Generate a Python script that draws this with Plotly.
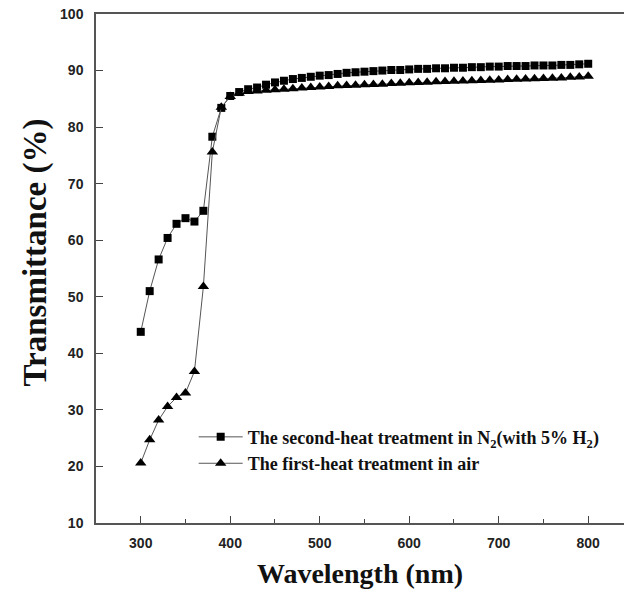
import plotly.graph_objects as go

wavelength = list(range(300, 801, 10))

# The second-heat treatment in N2 (with 5% H2) -- squares
t_n2 = [43.8, 51.0, 56.6, 60.4, 62.9, 63.9, 63.3, 65.2, 78.3, 83.4,
        85.5, 86.2, 86.7, 87.0, 87.5, 87.9, 88.2, 88.5, 88.7, 88.9,
        89.1, 89.2, 89.4, 89.6, 89.7, 89.8, 89.9, 90.0, 90.1, 90.1,
        90.2, 90.3, 90.3, 90.4, 90.4, 90.5, 90.5, 90.6, 90.6, 90.7,
        90.7, 90.8, 90.8, 90.8, 90.9, 90.9, 90.9, 91.0, 91.0, 91.1,
        91.2]

# The first-heat treatment in air -- triangles
t_air = [20.6, 24.7, 28.2, 30.6, 32.2, 33.0, 36.8, 51.8, 75.6, 83.5,
         85.4, 86.0, 86.3, 86.4, 86.5, 86.6, 86.7, 86.8, 86.9, 87.0,
         87.1, 87.2, 87.3, 87.35, 87.4, 87.5, 87.55, 87.6, 87.7, 87.75,
         87.85, 87.9, 87.95, 88.0, 88.05, 88.1, 88.15, 88.2, 88.25, 88.3,
         88.35, 88.4, 88.45, 88.5, 88.55, 88.6, 88.65, 88.7, 88.8, 88.85,
         89.0]

series_names = [
    "The second-heat treatment in N<sub>2</sub>(with 5% H<sub>2</sub>)",
    "The first-heat treatment in air",
]

x_ticks = [300, 400, 500, 600, 700, 800]
y_ticks = [10, 20, 30, 40, 50, 60, 70, 80, 90, 100]

fig = go.Figure()
fig.add_trace(go.Scatter(
    x=wavelength, y=t_n2, name=series_names[0], mode="lines+markers",
    line=dict(color="#555555", width=1),
    marker=dict(symbol="square", size=8, color="black"),
))
fig.add_trace(go.Scatter(
    x=wavelength, y=t_air, name=series_names[1], mode="lines+markers",
    line=dict(color="#555555", width=1),
    marker=dict(symbol="triangle-up", size=10, color="black"),
))

tick_font = dict(family="Liberation Sans, Arial", size=14, color="#222", weight="bold")
x_title_font = dict(family="Liberation Serif, Times New Roman", size=28, color="#111", weight="bold")
y_title_font = dict(family="Liberation Serif, Times New Roman", size=33, color="#111", weight="bold")

fig.update_layout(
    width=624, height=600,
    margin=dict(l=96, r=0, t=14, b=77),
    paper_bgcolor="white", plot_bgcolor="white",
    showlegend=True,
    legend=dict(
        x=0.185, y=0.205, xanchor="left", yanchor="top",
        bgcolor="rgba(0,0,0,0)",
        font=dict(family="Liberation Serif, Times New Roman", size=18, color="#111", weight="bold"),
        tracegroupgap=0, itemwidth=44,
    ),
    xaxis=dict(
        range=[250, 840], tickvals=x_ticks, ticks="inside", ticklen=7, tickwidth=1.2,
        tickcolor="#444", showgrid=False, zeroline=False,
        showline=True, linecolor="#555", linewidth=1.5, mirror=True,
        tickfont=tick_font, ticklabelstandoff=6,
        minor=dict(tickvals=[350, 450, 550, 650, 750], ticks="inside", ticklen=4, tickcolor="#444"),
        title=dict(text="Wavelength (nm)", font=x_title_font, standoff=14),
    ),
    yaxis=dict(
        range=[10, 100], tickvals=y_ticks, ticks="inside", ticklen=7, tickwidth=1.2,
        tickcolor="#444", showgrid=False, zeroline=False,
        showline=True, linecolor="#555", linewidth=1.5, mirror=False,
        tickfont=tick_font, ticklabelstandoff=8,
    ),
    annotations=[dict(
        text="Transmittance (%)", font=y_title_font, textangle=-90,
        xref="paper", yref="paper", x=-0.115, y=0.532,
        xanchor="center", yanchor="middle", showarrow=False,
    )],
)

fig.write_html("out.html")
